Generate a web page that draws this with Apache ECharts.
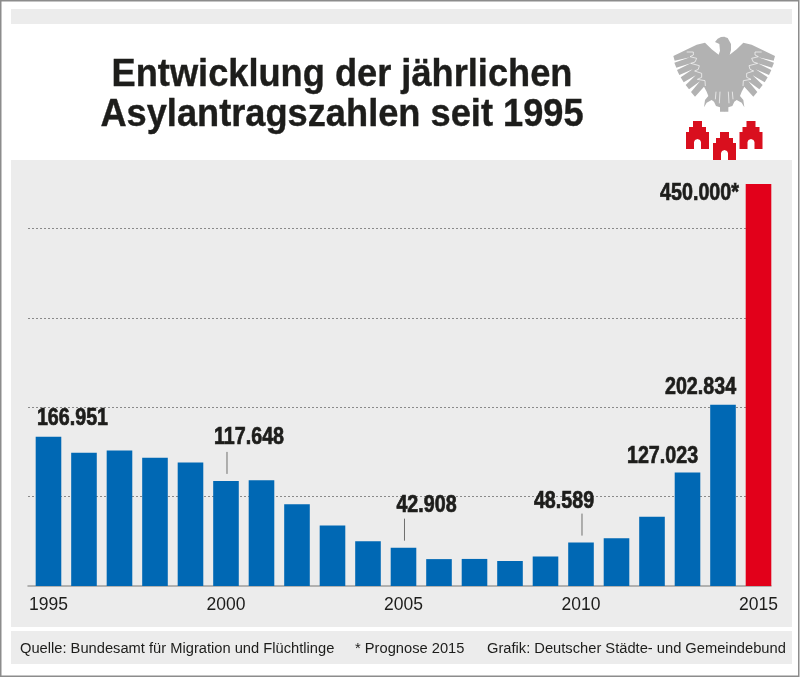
<!DOCTYPE html>
<html>
  <head>
    <meta charset="UTF-8" />
    <title>Asylantragszahlen</title>
    <script src="https://cdn.jsdelivr.net/npm/echarts@6/dist/echarts.min.js"></script>
    <style>
      html, body { margin: 0; padding: 0; background: #fff; }
    </style>
  </head>
  <body>
    <div id="chart" style="width: 800px; height: 677px"></div>
    <script>
      var years = [1995, 1996, 1997, 1998, 1999, 2000, 2001, 2002, 2003, 2004, 2005,
                   2006, 2007, 2008, 2009, 2010, 2011, 2012, 2013, 2014, 2015];
      var antraege = [166951, 149193, 151700, 143429, 138319, 117648, 118306, 91471, 67848, 50152, 42908,
                      30100, 30303, 28018, 33033, 48589, 53347, 77651, 127023, 202834, 450000];
      var tickYears = [1995, 2000, 2005, 2010, 2015];
      var labelledYears = [1995, 2000, 2005, 2010, 2013, 2014, 2015];
      var leaderYears = [2000, 2005, 2010];
      var titleLines = ["Entwicklung der jährlichen", "Asylantragszahlen seit 1995"];
      var quelle = "Quelle: Bundesamt für Migration und Flüchtlinge";
      var prognose = "* Prognose 2015";
      var grafik = "Grafik: Deutscher Städte- und Gemeindebund";

      var SANS = '"Liberation Sans", sans-serif';
      var INK = "#1d1d1b";
      var NARROW = 0.82; // no condensed font here, squeeze the bold text instead

      // label centre relative to the bar top centre, px
      var labelShift = {
        1995: [24, -18], 2000: [23, -44], 2005: [23, -42], 2010: [-17, -41],
        2013: [-25, -16], 2014: [-22.5, -17], 2015: [-59, 9]
      };

      function germanNumber(v) {
        return String(v).replace(/\B(?=(\d{3})+$)/g, ".");
      }

      var barData = years.map(function (y, i) {
        var item = { value: [y, antraege[i]] };
        if (y === 2015) item.itemStyle = { color: "#e2001a" };
        return item;
      });

      var noteData = labelledYears.map(function (y) {
        return [y, antraege[years.indexOf(y)]];
      });

      function renderNote(params, api) {
        var y = api.value(0);
        var v = api.value(1);
        var top = api.coord([y, v]);
        var shift = labelShift[y];
        var children = [
          {
            type: "text",
            x: top[0] + shift[0],
            y: top[1] + shift[1],
            scaleX: NARROW,
            style: {
              text: germanNumber(v) + (y === 2015 ? "*" : ""),
              textAlign: "center",
              textVerticalAlign: "middle",
              font: "bold 24px " + SANS,
              fill: INK,
              stroke: INK,
              lineWidth: 0.7
            }
          }
        ];
        if (leaderYears.indexOf(y) >= 0) {
          children.push({
            type: "line",
            shape: { x1: top[0] + 1, y1: top[1] - 7, x2: top[0] + 1, y2: top[1] - 29 },
            style: { stroke: "#6f6f6e", lineWidth: 1 }
          });
        }
        return { type: "group", children: children };
      }

      var CASTLE = [[7, 0], [16, 0], [16, 6], [20, 6], [20, 11], [23, 11], [23, 28], [15, 28], [15, 21],
                    [14, 19], [11.5, 18], [9, 19], [8, 21], [8, 28], [0, 28], [0, 11], [3, 11], [3, 6], [7, 6]];

      // left half of the eagle, in 3x px, mirrored for the right half
      var HEAD_FRONT = [[253, 50], [243, 51], [233, 56], [225, 66], [238, 72], [240, 92], [236, 104]];
      var HEAD_BACK = [[253, 50], [242, 54], [232, 72], [232, 90], [236, 104]];
      var EAGLE_BODY = [[215, 88], [195, 68],
        [170, 74], [100, 108], [104, 122], [150, 112], [103, 128], [109, 143], [152, 130], [111, 150], [118, 165],
        [158, 148], [122, 172], [131, 187], [167, 166], [137, 195], [147, 208], [180, 184], [153, 216], [165, 230],
        [192, 200], [200, 215], [205, 228], [195, 240], [192, 262], [200, 248], [215, 240], [222, 245], [228, 258],
        [240, 262], [240, 275], [253, 275]];
      var EAGLE_LINE = [[140, 96], [160, 96], [160, 105], [150, 110], [170, 115], [165, 126], [152, 130], [178, 137],
        [175, 148], [164, 153], [185, 160], [185, 172], [172, 178], [195, 182], [196, 198]];
      var EAGLE_SLITS = [[[240, 215], [238, 250]], [[228, 215], [226, 238]]];

      function eagleSide(originX, flip, head) {
        var parts = [
          { type: "polygon", shape: { points: head.concat(EAGLE_BODY) }, style: { fill: "#b2b2b2" } },
          { type: "polyline", shape: { points: EAGLE_LINE }, style: { stroke: "#fff", lineWidth: 2, fill: null } }
        ];
        EAGLE_SLITS.forEach(function (s) {
          parts.push({ type: "line", shape: { x1: s[0][0], y1: s[0][1], x2: s[1][0], y2: s[1][1] }, style: { stroke: "#fff", lineWidth: 2 } });
        });
        return { type: "group", x: originX, y: 20, scaleX: flip / 3, scaleY: 1 / 3, z: 5, children: parts };
      }

      function castle(x, y) {
        return { type: "polygon", x: x, y: y, z: 5, shape: { points: CASTLE }, style: { fill: "#d90f1e" } };
      }

      function titleText(line, y) {
        return {
          type: "text", x: 342, y: y, scaleX: 0.917, z: 5,
          style: { text: line, textAlign: "center", textVerticalAlign: "middle", font: "bold 39.5px " + SANS, fill: INK, stroke: INK, lineWidth: 0.4 }
        };
      }

      function footText(line, x) {
        return {
          type: "text", x: x, y: 649, z: 5,
          style: { text: line, textVerticalAlign: "middle", font: "14.7px " + SANS, fill: INK }
        };
      }

      var graphics = [
        { type: "rect", z: -10, shape: { x: 0.75, y: 0.75, width: 798, height: 675.5 }, style: { fill: "#fff", stroke: "#8c8c8c", lineWidth: 1.5 } },
        { type: "rect", z: -9, shape: { x: 11, y: 9, width: 781, height: 15 }, style: { fill: "#ececec" } },
        { type: "rect", z: -9, shape: { x: 11, y: 160, width: 781, height: 467 }, style: { fill: "#ececec" } },
        { type: "rect", z: -9, shape: { x: 11, y: 631, width: 781, height: 33 }, style: { fill: "#ececec" } },
        titleText(titleLines[0], 75),
        titleText(titleLines[1], 115.5),
        footText(quelle, 20),
        footText(prognose, 355),
        footText(grafik, 487),
        castle(686, 121),
        castle(713, 132),
        castle(739.5, 121),
        eagleSide(640, 1, HEAD_FRONT),
        eagleSide(640 + 505 / 3, -1, HEAD_BACK)
      ];

      var option = {
        animation: false,
        backgroundColor: "#fff",
        graphic: { elements: graphics },
        grid: { left: 28, top: 184, width: 743, height: 402 },
        xAxis: {
          type: "value",
          min: 1994.423,
          max: 2015.352,
          splitLine: { show: false },
          axisTick: { show: false },
          axisLine: { show: true, onZero: false, lineStyle: { color: "#9d9d9c", width: 1.5 } },
          axisLabel: {
            customValues: tickYears,
            margin: 10,
            fontFamily: SANS,
            fontSize: 17.5,
            color: INK,
            formatter: function (v) { return String(v); }
          }
        },
        yAxis: {
          type: "value",
          min: 0,
          max: 450000,
          interval: 100000,
          axisLine: { show: false },
          axisTick: { show: false },
          axisLabel: { show: false },
          splitLine: {
            show: true,
            showMinLine: false,
            showMaxLine: false,
            lineStyle: { color: "#8a8a8a", type: [2, 2], width: 1 }
          }
        },
        series: [
          {
            type: "bar",
            barWidth: 25.6,
            itemStyle: { color: "#0068b4" },
            data: barData
          },
          {
            type: "custom",
            clip: false,
            silent: true,
            renderItem: renderNote,
            data: noteData,
            z: 6
          }
        ]
      };

      var dom = document.getElementById("chart");
      var myChart = echarts.init(dom);
      myChart.setOption(option);
    </script>
  </body>
</html>
